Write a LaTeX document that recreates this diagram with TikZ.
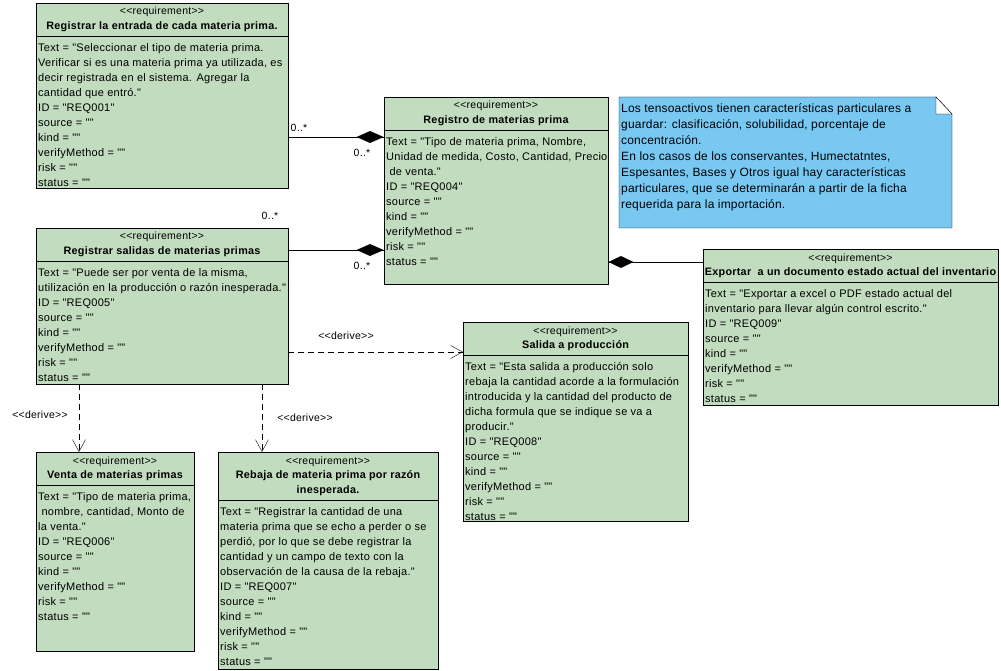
\documentclass[tikz,border=0pt]{standalone}
\usepackage{fontspec}
\setmainfont{Liberation Sans}
\newfontfamily\reqfont[LetterSpace=2.5]{Liberation Sans}
\newfontfamily\notefont[LetterSpace=1.5]{Liberation Sans}
\definecolor{reqgreen}{RGB}{194,220,192}
\definecolor{noteblue}{RGB}{120,200,242}
\newcommand{\stereotype}{<{}<requirement>{}>}

\begin{document}
\begin{tikzpicture}[x=1pt,y=1pt]
            \tikzstyle{every node}+=[inner sep=0pt]
            \tikzstyle{req}=[draw=black, fill=reqgreen, line width=0.8pt]
            \tikzstyle{stereo}=[anchor=base, font=\reqfont\fontsize{10.5}{15}\selectfont]
            \tikzstyle{title}=[anchor=base, font=\reqfont\bfseries\fontsize{10.8}{15}\selectfont]
            \tikzstyle{body}=[anchor=north west, align=left, font=\reqfont\fontsize{11}{15}\selectfont]
            \tikzstyle{notetext}=[anchor=north west, align=left, font=\notefont\fontsize{12}{16}\selectfont]
            \tikzstyle{derive}=[black, dash pattern=on 6pt off 4pt]
            \tikzstyle{mult}=[font=\reqfont\fontsize{10.5}{12}\selectfont]
            \useasboundingbox (0,0) rectangle (1001,-671);
            \node [req, minimum width=252, minimum height=185] (entrada) at (162,-95.5) {};
            \draw [black] (entrada.west |- 0,-36) -- (entrada.east |- 0,-36);
            \node [stereo] (entradaS) at (162,-15) {\stereotype};
            \node [title] (entradaN) at (162,-29.5) {Registrar la entrada de cada materia prima.};
            \node [body] (entradaB) at (38,-40.5) {\strut Text = "Seleccionar el tipo de materia prima.\\Verificar si es una materia prima ya utilizada, es\\decir registrada en el sistema. Agregar la\\cantidad que entró."\\ID = "REQ001"\\source = ""\\kind = ""\\verifyMethod = ""\\risk = ""\\status = ""};
            \node [req, minimum width=224, minimum height=187] (registro) at (496,-190.5) {};
            \draw [black] (registro.west |- 0,-130) -- (registro.east |- 0,-130);
            \node [stereo] (registroS) at (496,-109) {\stereotype};
            \node [title] (registroN) at (496,-123.5) {Registro de materias prima};
            \node [body] (registroB) at (386,-134.5) {\strut Text = "Tipo de materia prima, Nombre,\\Unidad de medida, Costo, Cantidad, Precio\\\ de venta."\\ID = "REQ004"\\source = ""\\kind = ""\\verifyMethod = ""\\risk = ""\\status = ""};
            \fill [noteblue] (619,-97) -- (936,-97) -- (952,-114) -- (952,-228) -- (619,-228) -- cycle;
            \draw [black] (619,-97) -- (936,-97) -- (952,-114) -- (952,-228) -- (619,-228) -- cycle;
            \filldraw [fill=white, draw=black] (936,-97) -- (936,-114) -- (952,-114) -- cycle;
            \node [notetext] (nota) at (621,-100.8) {\strut Los tensoactivos tienen características particulares a\\guardar: clasificación, solubilidad, porcentaje de\\concentración.\\En los casos de los conservantes, Humectatntes,\\Espesantes, Bases y Otros igual hay características\\particulares, que se determinarán a partir de la ficha\\requerida para la importación.};
            \node [req, minimum width=295, minimum height=156] (exportar) at (850.5,-327) {};
            \draw [black] (exportar.west |- 0,-282) -- (exportar.east |- 0,-282);
            \node [stereo] (exportarS) at (850.5,-261) {\stereotype};
            \node [title] (exportarN) at (850.5,-275.5) {Exportar\ \ a un documento estado actual del inventario};
            \node [body] (exportarB) at (705,-286.5) {\strut Text = "Exportar a excel o PDF estado actual del\\inventario para llevar algún control escrito."\\ID = "REQ009"\\source = ""\\kind = ""\\verifyMethod = ""\\risk = ""\\status = ""};
            \node [req, minimum width=252, minimum height=156] (salidas) at (162,-306) {};
            \draw [black] (salidas.west |- 0,-261) -- (salidas.east |- 0,-261);
            \node [stereo] (salidasS) at (162,-240) {\stereotype};
            \node [title] (salidasN) at (162,-254.5) {Registrar salidas de materias primas};
            \node [body] (salidasB) at (38,-265.5) {\strut Text = "Puede ser por venta de la misma,\\utilización en la producción o razón inesperada."\\ID = "REQ005"\\source = ""\\kind = ""\\verifyMethod = ""\\risk = ""\\status = ""};
            \node [req, minimum width=225, minimum height=199] (salida) at (575.5,-421.5) {};
            \draw [black] (salida.west |- 0,-355) -- (salida.east |- 0,-355);
            \node [stereo] (salidaS) at (575.5,-334) {\stereotype};
            \node [title] (salidaN) at (575.5,-348.5) {Salida a producción};
            \node [body] (salidaB) at (465,-359.5) {\strut Text = "Esta salida a producción solo\\rebaja la cantidad acorde a la formulación\\introducida y la cantidad del producto de\\dicha formula que se indique se va a\\producir."\\ID = "REQ008"\\source = ""\\kind = ""\\verifyMethod = ""\\risk = ""\\status = ""};
            \node [req, minimum width=158, minimum height=199] (venta) at (115,-551.5) {};
            \draw [black] (venta.west |- 0,-485) -- (venta.east |- 0,-485);
            \node [stereo] (ventaS) at (115,-464) {\stereotype};
            \node [title] (ventaN) at (115,-478.5) {Venta de materias primas};
            \node [body] (ventaB) at (38,-489.5) {\strut Text = "Tipo de materia prima,\\\ nombre, cantidad, Monto de\\la venta."\\ID = "REQ006"\\source = ""\\kind = ""\\verifyMethod = ""\\risk = ""\\status = ""};
            \node [req, minimum width=220, minimum height=217] (rebaja) at (328,-560.5) {};
            \draw [black] (rebaja.west |- 0,-500) -- (rebaja.east |- 0,-500);
            \node [stereo] (rebajaS) at (328,-464) {\stereotype};
            \node [title] (rebajaN) at (328,-478) {Rebaja de materia prima por razón};
            \node [title] (rebajaM) at (328,-493) {inesperada.};
            \node [body] (rebajaB) at (220,-504.5) {\strut Text = "Registrar la cantidad de una\\materia prima que se echo a perder o se\\perdió, por lo que se debe registrar la\\cantidad y un campo de texto con la\\observación de la causa de la rebaja."\\ID = "REQ007"\\source = ""\\kind = ""\\verifyMethod = ""\\risk = ""\\status = ""};
            \draw [black] (entrada.east |- 0,-137) -- (registro.west |- 0,-137);
            \fill [black] (registro.west |- 0,-137) -- ++(-13.5,6) -- ++(-13.5,-6) -- ++(13.5,-6) -- cycle;
            \node [mult] (m1) at (299,-128) {0..*};
            \node [mult] (m2) at (362,-153) {0..*};
            \draw [black] (salidas.east |- 0,-250) -- (registro.west |- 0,-250);
            \fill [black] (registro.west |- 0,-250) -- ++(-13.5,6) -- ++(-13.5,-6) -- ++(13.5,-6) -- cycle;
            \node [mult] (m3) at (270,-216) {0..*};
            \node [mult] (m4) at (362,-266) {0..*};
            \draw [black] (registro.east |- 0,-262) -- (exportar.west |- 0,-262);
            \fill [black] (registro.east |- 0,-262) -- ++(12.5,6) -- ++(12.5,-6) -- ++(-12.5,-6) -- cycle;
            \draw [derive] (salidas.east |- 0,-352) -- (salida.west |- 0,-352);
            \draw [black] (salida.west |- 0,-352) -- ++(-12,6.5) (salida.west |- 0,-352) -- ++(-12,-6.5);
            \node [mult] (d1) at (346,-336) {<{}<derive>{}>};
            \draw [derive] (salidas.south -| 79,0) -- (venta.north -| 79,0);
            \draw [black] (venta.north -| 79,0) -- ++(-6.5,12) (venta.north -| 79,0) -- ++(6.5,12);
            \node [mult] (d2) at (40,-415) {<{}<derive>{}>};
            \draw [derive] (salidas.south -| 262,0) -- (rebaja.north -| 262,0);
            \draw [black] (rebaja.north -| 262,0) -- ++(-6.5,12) (rebaja.north -| 262,0) -- ++(6.5,12);
            \node [mult] (d3) at (305,-418) {<{}<derive>{}>};
            \end{tikzpicture}
\end{document}
